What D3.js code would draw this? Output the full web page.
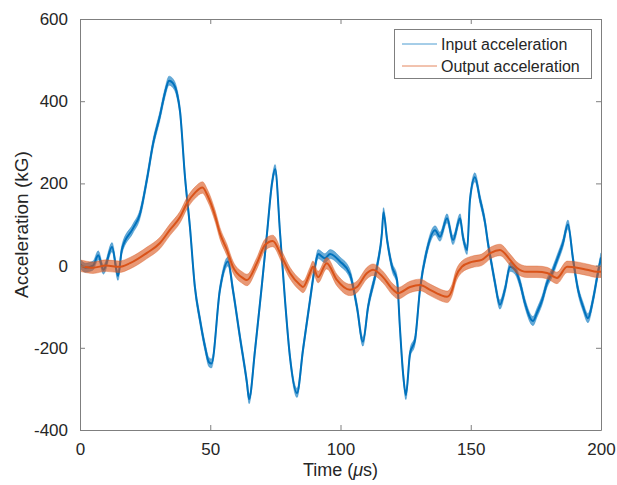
<!DOCTYPE html>
<html lang="en">

<head>
  <meta charset="UTF-8" />
  <title>Acceleration</title>
  <style>
    body { margin: 0; background: #fff; }
    text { font-family: "Liberation Sans", Arial, sans-serif; }
  </style>
</head>

<body>

  <div id="chart"></div>

  <script src="https://d3js.org/d3.v7.min.js"></script>

  <script>

    // values (time in us, acceleration in kG)
    var inputTime = [0, 2, 5, 7, 9, 12.3, 14.6, 16.1, 20.3, 23, 25.7, 28, 30.7, 32.6, 34.2, 35.5, 37.2, 38.4,
      40.3, 42.2, 44.1, 46, 48, 49.5, 50.5, 53.7, 56.8, 58.7, 61.4, 64.1, 64.9, 67.2, 69.9, 71.8, 73.7, 74.9,
      76.8, 78.7, 80.6, 83.3, 85.6, 88.3, 90.2, 91.4, 94, 96, 99.8, 103.6, 106.3, 108.6, 110.6, 114, 115.9,
      116.5, 117.9, 119.8, 121.7, 122.8, 124, 125.1, 126.7, 128.6, 130.5, 133.2, 136.3, 138.2, 140.9, 143.2,
      145.9, 147, 148.6, 149.7, 151.6, 153.6, 155.5, 156.6, 158.2, 159.3, 161.2, 163.1, 165.1, 167, 168.9,
      170.8, 173.9, 175.4, 177.4, 179.3, 181.2, 183.1, 185.4, 187.3, 189.3, 191.2, 193.1, 195, 196.9, 198.8, 200]
    var inputAccel = [5, -5, 0, 25, -10, 45, -25, 40, 90, 125, 210, 295, 365, 420, 450, 445, 420, 375,
      216, 94, -52, -130, -198, -235, -238, -59, 10, -59, -174, -286, -325, -205, -42, 79, 200, 235,
      79, -84, -222, -310, -205, -84, -3, 28, 18, 28, 10, -20, -100, -185, -100, -3, 79,
      130, 62, -3, -35, -150, -261, -315, -213, -181, -59, 38, 86, 70, 115, 62,
      115, 70, 38, 160, 215, 160, 104, 55, -3, -42, -95, -59, -3, -10, -42,
      -91, -135, -115, -84, -42, -18, 14, 55, 100, 14, -59, -100, -128, -84, -18, 20]

    var outputTime = [0, 5, 10, 15, 19.2, 25.7, 30.7, 34.5, 38.4, 41.1, 44.1, 47, 49, 52, 53.7, 56.4, 58.7,
      62.5, 64.1, 67.9, 71, 74, 77.5, 80.6, 84.5, 85.6, 88.3, 89.4, 91.4, 94.7, 98.6, 103.6, 106.3, 110.2,
      112.5, 116.3, 120.2, 122.1, 126.7, 130.5, 134.4, 138.2, 140.9, 142.8, 144.2, 146.6, 150.4, 154.2,
      157.7, 161.2, 165.1, 167.7, 171.5, 175.4, 179.3, 183.1, 187, 190.8, 194.6, 198.5, 200]
    var outputAccel = [0, -5, 0, -3, 6, 31, 55, 87, 118, 152, 177, 190, 170, 118, 79, 38, -3,
      -30, -35, 6, 50, 60, 21, -18, -47, -52, -18, -3, -28, 6, -35, -59, -52, -18,
      -10, -28, -59, -67, -52, -47, -59, -71, -76, -60, -28, -3, 9, 14,
      31, 38, 14, -5, -15, -15, -18, -30, -3, -5, -10, -15, -15]

    // half width of the measurement noise band (kG)
    var inputNoise = 11
    var outputNoise = 14

    var seriesNames = ["Input acceleration", "Output acceleration"]
    var xTicks = [0, 50, 100, 150, 200]
    var yTicks = [-400, -200, 0, 200, 400, 600]

    var plotLeft = 80, plotTop = 19, plotRight = 601, plotBottom = 430
    var blue = "#0072BD", orange = "#D95319"

    var x = d3.scaleLinear().domain([0, 200]).range([plotLeft, plotRight])
    var y = d3.scaleLinear().domain([-400, 600]).range([plotBottom, plotTop])

    var svg = d3.select("#chart")
      .append("svg")
      .attr("width", 617)
      .attr("height", 485)
      .style("background", "#fff")

    svg.append("clipPath").attr("id", "plotclip")
      .append("rect")
      .attr("x", plotLeft).attr("y", plotTop)
      .attr("width", plotRight - plotLeft).attr("height", plotBottom - plotTop)

    var plot = svg.append("g").attr("clip-path", "url(#plotclip)")

    var drawSeries = function (times, values, noise, colour) {
      var pts = times.map(function (t, i) { return { t: t, v: values[i] } })
      var band = d3.area()
        .x(function (d) { return x(d.t) })
        .y0(function (d) { return y(d.v - noise) })
        .y1(function (d) { return y(d.v + noise) })
        .curve(d3.curveMonotoneX)
      var line = d3.line()
        .x(function (d) { return x(d.t) })
        .y(function (d) { return y(d.v) })
        .curve(d3.curveMonotoneX)
      plot.append("path")
        .attr("d", band(pts))
        .attr("fill", colour)
        .attr("fill-opacity", 0.6)
        .attr("stroke", colour)
        .attr("stroke-opacity", 0.45)
        .attr("stroke-width", 0.8)
      plot.append("path")
        .attr("d", line(pts))
        .attr("fill", "none")
        .attr("stroke", colour)
        .attr("stroke-width", 2)
    }

    drawSeries(inputTime, inputAccel, inputNoise, blue)
    drawSeries(outputTime, outputAccel, outputNoise, orange)

    // axes, MATLAB style: ticks pointing in, box on
    var axisColour = "#7f7f7f", labelColour = "#262626"
    var plain = function (d) { return String(d) }

    svg.append("g")
      .attr("transform", "translate(0," + plotBottom + ")")
      .call(d3.axisBottom(x).tickValues(xTicks).tickFormat(plain).tickSizeInner(-5).tickSizeOuter(0).tickPadding(13))
    svg.append("g")
      .attr("transform", "translate(0," + plotTop + ")")
      .call(d3.axisTop(x).tickValues(xTicks).tickSizeInner(-5).tickSizeOuter(0).tickFormat(""))
    svg.append("g")
      .attr("transform", "translate(" + plotLeft + ",0)")
      .call(d3.axisLeft(y).tickValues(yTicks).tickFormat(plain).tickSizeInner(-5).tickSizeOuter(0).tickPadding(12))
    svg.append("g")
      .attr("transform", "translate(" + plotRight + ",0)")
      .call(d3.axisRight(y).tickValues(yTicks).tickSizeInner(-5).tickSizeOuter(0).tickFormat(""))

    svg.selectAll(".domain, .tick line").attr("stroke", axisColour)
    svg.selectAll(".tick text")
      .attr("fill", labelColour)
      .style("font-size", "17px")
      .style("font-family", "'Liberation Sans', Arial, sans-serif")

    svg.append("text")
      .attr("x", (plotLeft + plotRight) / 2)
      .attr("y", 476)
      .attr("text-anchor", "middle")
      .attr("fill", labelColour)
      .style("font-size", "18px")
      .html("Time (<tspan font-style='italic'>μ</tspan>s)")

    svg.append("text")
      .attr("transform", "translate(28," + ((plotTop + plotBottom) / 2) + ") rotate(-90)")
      .attr("text-anchor", "middle")
      .attr("fill", labelColour)
      .style("font-size", "19px")
      .text("Acceleration (kG)")

    // legend
    var legend = svg.append("g")
    legend.append("rect")
      .attr("x", 394.5).attr("y", 29.5)
      .attr("width", 197).attr("height", 49)
      .attr("fill", "#fff")
      .attr("stroke", axisColour)
    var colours = [blue, orange]
    seriesNames.forEach(function (name, i) {
      var ly = 44 + i * 22
      legend.append("line")
        .attr("x1", 402).attr("x2", 437)
        .attr("y1", ly).attr("y2", ly)
        .attr("stroke", colours[i])
        .attr("stroke-opacity", 0.7)
        .attr("stroke-width", 1)
      legend.append("text")
        .attr("x", 441).attr("y", ly + 6)
        .attr("fill", labelColour)
        .style("font-size", "16px")
        .text(name)
    })

  </script>
</body>

</html>
